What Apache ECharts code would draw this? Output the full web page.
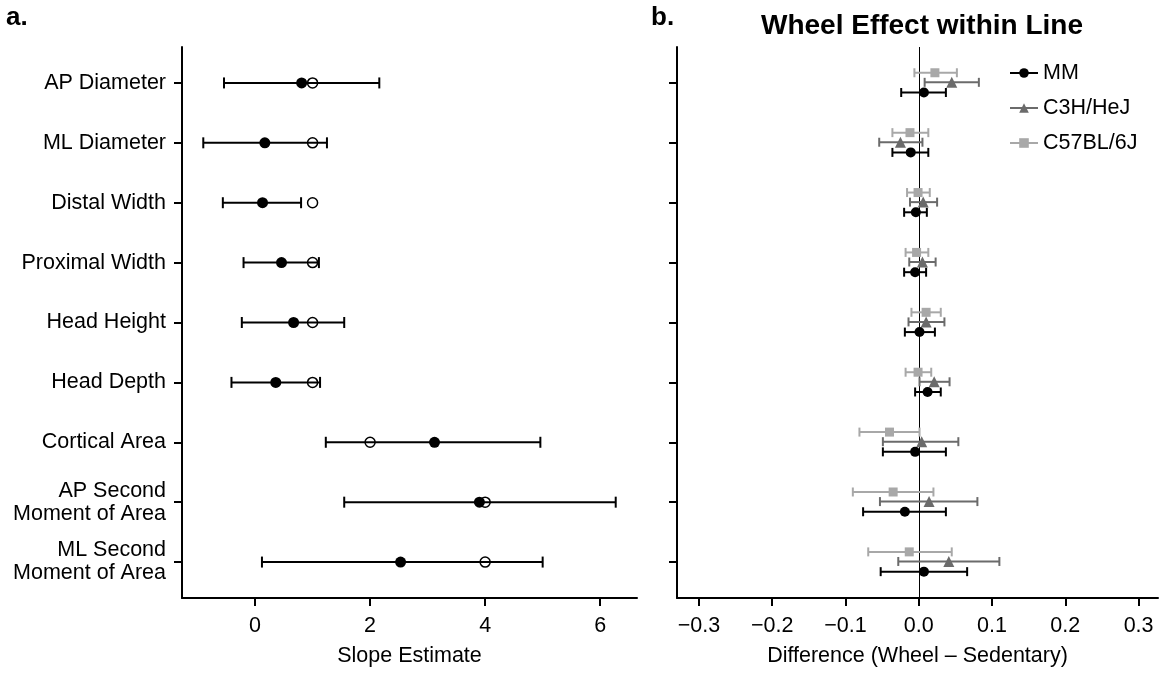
<!DOCTYPE html>
<html><head><meta charset="utf-8">
<script src="https://cdn.jsdelivr.net/npm/echarts@6/dist/echarts.min.js"></script>
<style>html,body{margin:0;padding:0;background:#fff}#c{width:1159px;height:674px}</style>
</head><body><div id="c"></div>
<script>
// ---- data ----
const categories = ['AP Diameter','ML Diameter','Distal Width','Proximal Width','Head Height','Head Depth','Cortical Area','AP Second\nMoment of Area','ML Second\nMoment of Area'];
const slopeEstimate = [0.81, 0.17, 0.13, 0.46, 0.67, 0.36, 3.12, 3.90, 2.53];
const slopeLow      = [-0.54, -0.90, -0.56, -0.20, -0.23, -0.41, 1.23, 1.55, 0.12];
const slopeHigh     = [2.16, 1.25, 0.80, 1.11, 1.55, 1.13, 4.96, 6.27, 5.00];
const slopeExpected = [1, 1, 1, 1, 1, 1, 2, 4, 4];
const slopeTicks = [0, 2, 4, 6];
const diffTicks = [-0.3, -0.2, -0.1, 0.0, 0.1, 0.2, 0.3];

const strains = ['MM', 'C3H/HeJ', 'C57BL/6J'];
const mmDiff  = [0.007, -0.011, -0.004, -0.005, 0.001, 0.012, -0.005, -0.019, 0.007];
const mmLow   = [-0.024, -0.036, -0.020, -0.020, -0.019, -0.005, -0.049, -0.076, -0.052];
const mmHigh  = [0.037, 0.013, 0.011, 0.010, 0.022, 0.030, 0.037, 0.037, 0.066];
const c3hDiff = [0.045, -0.025, 0.006, 0.005, 0.010, 0.021, 0.004, 0.014, 0.041];
const c3hLow  = [0.008, -0.054, -0.012, -0.013, -0.014, 0.001, -0.049, -0.053, -0.028];
const c3hHigh = [0.082, 0.005, 0.025, 0.023, 0.035, 0.042, 0.054, 0.080, 0.110];
const c57Diff = [0.022, -0.012, -0.001, -0.003, 0.010, -0.001, -0.040, -0.035, -0.013];
const c57Low  = [-0.006, -0.036, -0.016, -0.018, -0.010, -0.018, -0.081, -0.090, -0.069];
const c57High = [0.052, 0.013, 0.015, 0.013, 0.030, 0.017, 0.001, 0.020, 0.045];

// ---- styles ----
const FONT = 'Liberation Sans, Arial, Helvetica, sans-serif';
const FS = 21.5;
const colMM = '#000000', colC3H = '#6b6b6b', colC57 = '#a8a8a8';
const catPos = categories.map((c, i) => i + 1);
const dodge = {MM: 0.16, C3H: -0.01, C57: -0.17};

function errRender(capHalf, color, width) {
  return function (params, api) {
    const y = api.value(0), lo = api.value(1), hi = api.value(2);
    const a = api.coord([lo, y]), b = api.coord([hi, y]);
    const style = {stroke: color, lineWidth: width, fill: null};
    return {type: 'group', children: [
      {type: 'line', shape: {x1: a[0], y1: a[1], x2: b[0], y2: b[1]}, style: style},
      {type: 'line', shape: {x1: a[0], y1: a[1] - capHalf, x2: a[0], y2: a[1] + capHalf}, style: style},
      {type: 'line', shape: {x1: b[0], y1: b[1] - capHalf, x2: b[0], y2: b[1] + capHalf}, style: style}
    ]};
  };
}
function errData(low, high, off) {
  return catPos.map((p, i) => [p + off, low[i], high[i]]);
}
function ptData(vals, off) {
  return catPos.map((p, i) => [vals[i], p + off]);
}

const axisLine = {show: true, onZero: false, lineStyle: {color: '#000', width: 2}};
const axisTick = {show: true, length: 8, lineStyle: {color: '#000', width: 2}};

const option = {
  animation: false,
  backgroundColor: '#fff',
  textStyle: {fontFamily: FONT},
  grid: [
    {left: 182, top: 47, width: 455, height: 551},
    {left: 677, top: 47, width: 481, height: 551}
  ],
  graphic: [
    {type: 'text', left: 6, top: 5, style: {text: 'a.', font: 'bold 26px ' + FONT, fill: '#000'}},
    {type: 'text', left: 651, top: 5, style: {text: 'b.', font: 'bold 26px ' + FONT, fill: '#000'}}
  ],
  title: {
    text: 'Wheel Effect within Line', left: 917, top: 7, textAlign: 'center',
    textStyle: {fontFamily: FONT, fontWeight: 'bold', fontSize: 28, color: '#000'}
  },
  legend: {
    orient: 'vertical', left: 1009, top: 62, padding: 0, itemWidth: 28, itemHeight: 12, itemGap: 13,
    data: strains,
    textStyle: {fontFamily: FONT, fontSize: FS, color: '#000'},
    lineStyle: {opacity: 1, width: 2}
  },
  xAxis: [
    {type: 'value', gridIndex: 0, min: -1.27, max: 6.64,
     name: 'Slope Estimate', nameLocation: 'middle', nameGap: 47,
     nameTextStyle: {fontFamily: FONT, fontSize: FS, color: '#000'},
     axisLine: axisLine, axisTick: Object.assign({customValues: slopeTicks}, axisTick),
     axisLabel: {customValues: slopeTicks, margin: 17, fontFamily: FONT, fontSize: FS, color: '#000'},
     splitLine: {show: false}},
    {type: 'value', gridIndex: 1, min: -0.33, max: 0.3265,
     name: 'Difference (Wheel \u2013 Sedentary)', nameLocation: 'middle', nameGap: 47,
     nameTextStyle: {fontFamily: FONT, fontSize: FS, color: '#000'},
     axisLine: axisLine, axisTick: Object.assign({customValues: diffTicks}, axisTick),
     axisLabel: {customValues: diffTicks, margin: 17, fontFamily: FONT, fontSize: FS, color: '#000',
       formatter: v => (v < 0 ? '\u2212' : '') + Math.abs(v).toFixed(1)},
     splitLine: {show: false}}
  ],
  yAxis: [
    {type: 'value', gridIndex: 0, inverse: true, min: 0.4, max: 9.6,
     axisLine: axisLine, axisTick: Object.assign({customValues: catPos}, axisTick),
     axisLabel: {customValues: catPos, margin: 16, fontFamily: FONT, fontSize: FS, color: '#000', lineHeight: 23,
       formatter: v => categories[Math.round(v) - 1] || ''},
     splitLine: {show: false}},
    {type: 'value', gridIndex: 1, inverse: true, min: 0.4, max: 9.6,
     axisLine: axisLine, axisTick: Object.assign({customValues: catPos}, axisTick),
     axisLabel: {show: false},
     splitLine: {show: false}}
  ],
  series: [
    {type: 'custom', xAxisIndex: 0, yAxisIndex: 0, renderItem: errRender(5.5, '#000', 2),
     encode: {x: [1, 2], y: 0}, data: errData(slopeLow, slopeHigh, 0), z: 2, silent: true},
    {type: 'scatter', xAxisIndex: 0, yAxisIndex: 0, symbol: 'circle', symbolSize: 11,
     itemStyle: {color: '#000', opacity: 1}, data: ptData(slopeEstimate, 0), z: 3, silent: true},
    {type: 'scatter', xAxisIndex: 0, yAxisIndex: 0, symbol: 'circle', symbolSize: 10,
     itemStyle: {color: 'rgba(0,0,0,0)', borderColor: '#000', borderWidth: 1.5, opacity: 1},
     data: ptData(slopeExpected, 0), z: 4, silent: true},

    {type: 'custom', xAxisIndex: 1, yAxisIndex: 1, renderItem: errRender(4.5, colC57, 2),
     encode: {x: [1, 2], y: 0}, data: errData(c57Low, c57High, dodge.C57), z: 2, silent: true},
    {type: 'custom', xAxisIndex: 1, yAxisIndex: 1, renderItem: errRender(4.5, colC3H, 2),
     encode: {x: [1, 2], y: 0}, data: errData(c3hLow, c3hHigh, dodge.C3H), z: 2, silent: true},
    {type: 'custom', xAxisIndex: 1, yAxisIndex: 1, renderItem: errRender(4.5, colMM, 2),
     encode: {x: [1, 2], y: 0}, data: errData(mmLow, mmHigh, dodge.MM), z: 2, silent: true},

    {name: 'MM', type: 'line', xAxisIndex: 1, yAxisIndex: 1, symbol: 'circle', symbolSize: 10, showSymbol: true,
     color: colMM, itemStyle: {color: colMM}, lineStyle: {opacity: 0, color: colMM},
     data: ptData(mmDiff, dodge.MM), z: 5, silent: true,
     markLine: {silent: true, symbol: ['none', 'none'], label: {show: false}, z: 1,
       lineStyle: {color: '#000', width: 1, type: 'solid'}, data: [{xAxis: 0}]}},
    {name: 'C3H/HeJ', type: 'line', xAxisIndex: 1, yAxisIndex: 1, symbol: 'triangle', symbolSize: 11, showSymbol: true,
     color: colC3H, itemStyle: {color: colC3H}, lineStyle: {opacity: 0, color: colC3H},
     data: ptData(c3hDiff, dodge.C3H), z: 4, silent: true},
    {name: 'C57BL/6J', type: 'line', xAxisIndex: 1, yAxisIndex: 1, symbol: 'rect', symbolSize: 9, showSymbol: true,
     color: colC57, itemStyle: {color: colC57}, lineStyle: {opacity: 0, color: colC57},
     data: ptData(c57Diff, dodge.C57), z: 3, silent: true}
  ]
};
const chart = echarts.init(document.getElementById('c'), null, {renderer: 'canvas'});
chart.setOption(option);
</script>
</body></html>
